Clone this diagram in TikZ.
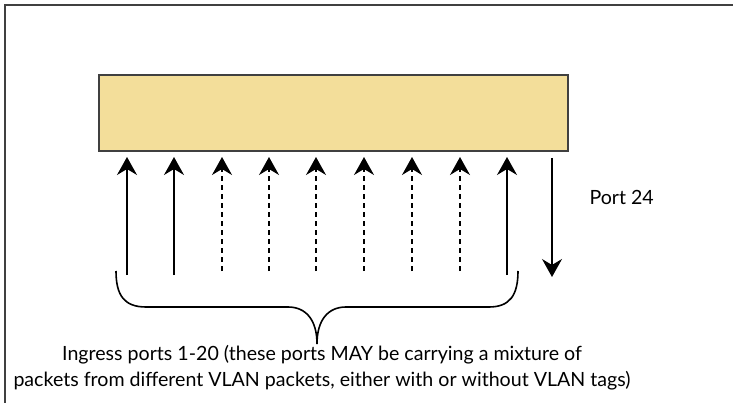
\documentclass[tikz,border=0pt]{standalone}
\usepackage{fontspec}
\setmainfont{Lato}
\usetikzlibrary{arrows.meta}
\definecolor{boxtan}{RGB}{243,222,154}
\definecolor{framegray}{RGB}{64,64,64}

\begin{document}
\begin{tikzpicture}[x=1pt,y=-1pt]
\tikzstyle{every node}=[font=\fontsize{19.6}{26}\selectfont]
\tikzstyle{switch}=[draw=framegray,line width=1.5pt,fill=boxtan,
	minimum width=469pt,minimum height=76pt,inner sep=0pt,outer sep=0pt]
\tikzstyle{port}=[line width=1.6pt,-{Stealth[length=18pt,width=20pt,inset=6pt]}]
\tikzstyle{vport}=[port,dash pattern=on 5pt off 4pt]
\useasboundingbox (0,0) rectangle (733,403);
\draw[framegray,line width=2.5pt] (733,5) -- (5,5) -- (5,403);
\node[switch] (sw) at (333.5,113) {};
\foreach \x in {127,174,507}
	\draw[port,shorten >=6pt] (\x,275) coordinate (in\x) -- (in\x |- sw.south);
\foreach \x in {222,269,316,364,412,460}
	\draw[vport,shorten >=6pt] (\x,271) coordinate (in\x) -- (in\x |- sw.south);
\coordinate (out) at (552,277);
\draw[port,shorten <=7pt] (out |- sw.south) -- (out);
\node[anchor=west] (p24) at (586,197) {Port 24};
\coordinate (bl) at (116,271);
\coordinate (br) at (518,271);
\coordinate (bt) at (317,344);
\draw[line width=1.6pt] (bl) .. controls (116,295) and (124,307) .. (146,307)
	-- (288,307) .. controls (306,307) and (317,320) .. (bt)
	.. controls (317,320) and (328,307) .. (346,307)
	-- (489,307) .. controls (510,307) and (518,295) .. (br);
\node[align=center] (ingress) at (322,368)
	{Ingress ports 1-20 (these ports MAY be carrying a mixture of\\
	packets from different VLAN packets, either with or without VLAN tags)};
\end{tikzpicture}
\end{document}
